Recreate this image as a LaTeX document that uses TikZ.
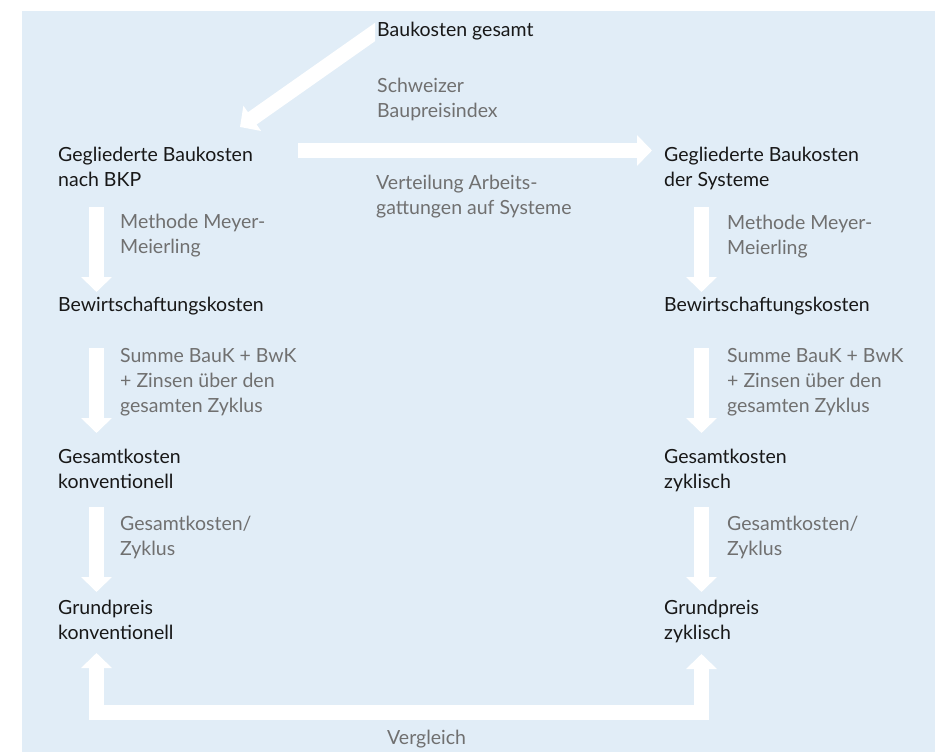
\documentclass[tikz,border=0pt]{standalone}
\usepackage{fontspec}
\setmainfont{Lato}
\usetikzlibrary{arrows.meta}
\usepackage{xcolor}

\definecolor{flaeche}{RGB}{225,237,247}
\definecolor{kostentext}{RGB}{24,24,24}
\definecolor{schrittgrau}{RGB}{112,112,112}

\begin{document}
\begin{tikzpicture}[x=1pt, y=-1pt,
    every node/.style={inner sep=0pt, anchor=north west, align=left,
      font=\fontsize{19.5}{25}\selectfont},
    kosten/.style={text=kostentext},
    schritt/.style={text=schrittgrau},
    fatarrow/.style={draw=white, line width=15pt,
      -{Triangle[width=30pt,length=15pt]}},
    fatboth/.style={draw=white, line width=15pt, line join=miter,
      {Triangle[width=30pt,length=15pt]}-{Triangle[width=30pt,length=15pt]}}
  ]
  \useasboundingbox (0,0) rectangle (935,752);
  \fill[flaeche] (22,11) rectangle (935,752);

  % Kostenstufen
  \node[kosten] (gesamt) at (377,21.5) {Baukosten gesamt};
  \node[kosten] (bkp)  at (58,147)    {Gegliederte Baukosten\\nach BKP};
  \node[kosten] (sys)  at (664,146.5) {Gegliederte Baukosten\\der Systeme};
  \node[kosten] (bwkL) at (58,296.5)  {Bewirtschaftungskosten};
  \node[kosten] (bwkR) at (664,297)   {Bewirtschaftungskosten};
  \node[kosten] (gkL)  at (58,448.5)  {Gesamtkosten\\konventionell};
  \node[kosten] (gkR)  at (664,448.5) {Gesamtkosten\\zyklisch};
  \node[kosten] (gpL)  at (58,599.5)  {Grundpreis\\konventionell};
  \node[kosten] (gpR)  at (664,599.5) {Grundpreis\\zyklisch};

  % Schritte
  \node[schritt] (index) at (377,77.5)  {Schweizer\\Baupreisindex};
  \node[schritt] (vert)  at (376,174.5) {Verteilung Arbeits-\\gattungen auf Systeme};
  \node[schritt] (mmL)   at (120,214)   {Methode Meyer-\\Meierling};
  \node[schritt] (mmR)   at (727,215)   {Methode Meyer-\\Meierling};
  \node[schritt] (sumL)  at (120,348.5) {Summe BauK + BwK\\+ Zinsen über den\\gesamten Zyklus};
  \node[schritt] (sumR)  at (727,348.5) {Summe BauK + BwK\\+ Zinsen über den\\gesamten Zyklus};
  \node[schritt] (zykL)  at (120,515.5) {Gesamtkosten/\\Zyklus};
  \node[schritt] (zykR)  at (727,516)   {Gesamtkosten/\\Zyklus};
  \node[schritt] (vgl)   at (387,730)   {Vergleich};

  % Pfeile
  \begin{scope}
    \clip (0,0) rectangle (375,752);
    \draw[fatarrow] ([shift={(8pt,-3.5pt)}]gesamt.north west)
      -- ([shift={(182pt,20pt)}]bkp.north west);
  \end{scope}
  \draw[fatarrow] ([shift={(240pt,-3.5pt)}]bkp.north west)
    -- ([shift={(-12pt,-4pt)}]sys.north west);

  \draw[fatarrow] ([shift={(38.5pt,-60pt)}]bkp.north west)
    -- ([shift={(38.5pt,4.5pt)}]bwkL.north west);
  \draw[fatarrow] ([shift={(38.5pt,-51.5pt)}]bwkL.north west)
    -- ([shift={(38.5pt,15.5pt)}]gkL.north west);
  \draw[fatarrow] ([shift={(38.5pt,-58.5pt)}]gkL.north west)
    -- ([shift={(38.5pt,7.5pt)}]gpL.north west);

  \draw[fatarrow] ([shift={(37.5pt,-60.5pt)}]sys.north west)
    -- ([shift={(37.5pt,5pt)}]bwkR.north west);
  \draw[fatarrow] ([shift={(37.5pt,-51pt)}]bwkR.north west)
    -- ([shift={(37.5pt,15.5pt)}]gkR.north west);
  \draw[fatarrow] ([shift={(37.5pt,-58.5pt)}]gkR.north west)
    -- ([shift={(37.5pt,7.5pt)}]gpR.north west);

  \draw[fatboth] ([shift={(38.5pt,-53.5pt)}]gpL.north west) -- ++(0,59.5)
    -| ([shift={(37.5pt,-54.5pt)}]gpR.north west);
\end{tikzpicture}
\end{document}
